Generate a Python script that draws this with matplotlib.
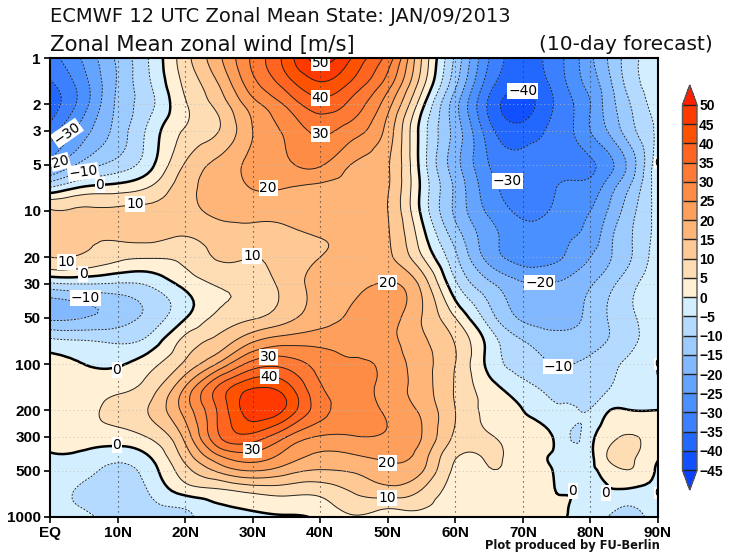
import numpy as np
import matplotlib
matplotlib.use("Agg")
import matplotlib.pyplot as plt
import matplotlib.tri as mtri
from matplotlib.colors import ListedColormap, BoundaryNorm
from matplotlib.ticker import NullLocator

lats = [0, 5, 10, 15, 20, 25, 30, 35, 40, 45, 50, 55, 60, 65, 70, 75, 77.5, 80, 82.5, 85, 90]
levels_hpa = [1, 1.5, 2, 3, 5, 7, 10, 15, 20, 30, 50, 70, 100, 150, 200, 300, 400, 500, 700, 850, 1000]

u_1 = [-32, -24, -14, -4, 8, 19, 31, 42, 52, 44, 33, 10, -11, -30, -37, -32, -27, -21, -15, -9, -2]
u_1p5 = [-36, -27, -14.5, -5, 6, 15, 28, 37, 44, 38, 27, 7, -14, -33, -39, -33, -28, -23, -17, -10, -2]
u_2 = [-38, -27, -14, -6, 4.5, 12, 23, 31, 38, 33, 22, 2, -18, -36, -42, -34, -30, -25, -18, -12, -2]
u_3 = [-33, -22, -13, -3, 5.5, 10, 20, 26, 31, 27, 18, -2, -17, -33, -38, -33, -30, -25, -20, -14, -4]
u_5 = [-22, -13, -8, -1, 10.5, 16.5, 21.5, 24, 25.5, 19.5, 15.5, -2, -18, -30, -33.5, -32, -32, -31, -27, -21, -1]
u_7 = [-5, 0.5, 2, 5.5, 13, 17.5, 20.2, 20.1, 19, 19, 15.5, -1, -16, -28, -32, -30, -29, -28, -23, -17, -2]
u_10 = [10.5, 10.7, 11, 11.5, 13, 16.5, 17, 17, 17.5, 18, 15, -1, -16, -26, -31, -29, -27, -25, -20, -14, -3]
u_15 = [10.3, 10.3, 10.5, 11, 9.7, 12, 12.5, 13.5, 15, 16.5, 15.5, 2.5, -12, -23, -28, -27, -25, -23, -17, -12, -3]
u_20 = [10, 9.3, 6.5, 5.5, 6.5, 10.5, 10, 12.5, 15, 17, 16, 5.5, -9, -22, -27, -26, -23, -20, -16, -12, -2]
u_30 = [-6, -5, -5.5, -4, 1.5, 5.5, 7, 12, 16.5, 18.5, 20.5, 13.5, -4, -14, -19.5, -19.5, -18, -15.5, -12, -8, -1]
u_50 = [-16, -15, -12.5, -8, -0.3, 6.5, 9.5, 13.5, 18, 21, 22, 15, 5, -7.5, -15.8, -17, -16, -13.5, -10, -7, -1.5]
u_70 = [-4, -5, -6, -3, 6.5, 11.5, 19, 22.5, 23, 23, 21.5, 16, 9.5, -2, -10, -13, -13, -12, -10, -7.5, -1]
u_100 = [1, 0, -0.5, 3.5, 11, 21, 32, 33, 28, 25.5, 23.5, 17, 10, -1.5, -7.2, -10.2, -10, -9, -7, -4.5, 0]
u_150 = [1.5, 2.5, 4.3, 8.5, 21.5, 37, 46, 43, 31, 27, 23, 17.5, 9.5, 2.5, -2.5, -6.5, -7.5, -7.5, -5, -3, -0.5]
u_200 = [1.5, 3.5, 6.7, 10.7, 22, 36, 48, 44, 32, 28, 24, 19, 10, 3.5, 0, -4, -4.5, -4.7, -0.5, 0.3, 0]
u_300 = [2, 2.5, 2.5, 5.7, 16.5, 34.5, 38, 30, 24.5, 24.7, 24.5, 20, 9, 5.5, 2, -1, -5.5, -1.5, 3, 5.3, 3]
u_400 = [-0.5, -1, -3, 0.5, 12, 24.5, 28, 23, 19, 19.5, 21.5, 17.5, 5.5, 5.5, 2.5, -0.8, -2, -1, 5.2, 6.5, 0.8]
u_500 = [-1.5, -3, -6.8, -2, 8, 16, 20, 17, 14.5, 15.5, 18, 15.5, 4, 4.7, 2.5, -0.3, -1.5, -1, 2, 4.7, -1]
u_700 = [-2, -6.5, -8.5, -4.5, 1, 3, 5, 6, 6, 10, 12, 9, 2.5, 2.5, 2, 0, -0.3, -1.5, -1, -1.5, -0.6]
u_850 = [-2, -5.5, -8, -6, -4.3, -0.5, 1, 2, 3, 7, 6, 6, 1.5, 1.5, 1.5, 0.7, -0.5, -2, -3, -5, -1]
u_1000 = [-2, -3.5, -7.5, -6.5, -5.5, -3, -1.5, -0.5, 1, 4.5, 3, 2, 1, 1, 1, 0.7, -0.7, -2.5, -5, -7, -2]

wind = np.array([u_1, u_1p5, u_2, u_3, u_5, u_7, u_10, u_15, u_20, u_30, u_50, u_70, u_100,
                 u_150, u_200, u_300, u_400, u_500, u_700, u_850, u_1000], dtype=float)

contour_levels = list(range(-45, 55, 5))
fill_colors = ["#1050FF", "#2268FF", "#3C80FF", "#4B90FF", "#64A4FF", "#82B8FF", "#9CCBFF",
               "#B4DAFF", "#D2EEFF", "#FFF0D6", "#FFDDB4", "#FFC996", "#FFB478", "#FF9F5C",
               "#FF8C44", "#FF7A35", "#FF6420", "#FF5200", "#FF3A00"]
over_color = "#FF2000"
under_color = "#0A40FF"

y_tick_values = [1, 2, 3, 5, 10, 20, 30, 50, 100, 200, 300, 500, 1000]
x_tick_values = [0, 10, 20, 30, 40, 50, 60, 70, 80, 90]
x_tick_labels = ["EQ", "10N", "20N", "30N", "40N", "50N", "60N", "70N", "80N", "90N"]
cbar_ticks = [50, 45, 40, 35, 30, 25, 20, 15, 10, 5, 0, -5, -10, -15, -20, -25, -30, -35, -40, -45]

label_text = ["50", "40", "30", "20", "10", "0", "\u221210", "20", "\u221230", "10", "0", "10",
              "\u221210", "20", "30", "40", "30", "0", "0", "20", "10", "\u221240", "\u221230",
              "\u221220", "\u221210", "0", "0"]
label_lat = [40, 40, 40, 32.3, 12.6, 7.4, 4.9, 1.5, 2.5, 2.4, 4.9, 29.9,
             5.2, 50, 32.3, 32.5, 30, 9.9, 9.9, 49.9, 49.9, 70, 67.7,
             72.5, 75.2, 77.4, 82.3]
label_p = [1.08, 1.83, 3.14, 7.07, 9.0, 6.76, 5.56, 4.78, 3.09, 21.6, 25.8, 19.7,
           37, 29.4, 89.9, 121, 364, 109, 338, 444, 752, 1.64, 6.36,
           29.4, 104, 677, 699]
label_rot = [0, 0, 0, 0, 0, 0, 8, 15, 35, 0, 0, 0,
             0, 0, 0, 0, 0, 0, 0, 0, 0, 0, 0,
             0, 0, 0, 0]
edge_zero_p = [4.85, 100, 699]

W, H = 734, 560
fig = plt.figure(figsize=(W / 100, H / 100), dpi=100)
ax = fig.add_axes([50 / W, 1 - 517 / H, 608 / W, 459 / H])

lon_grid, p_grid = np.meshgrid(lats, levels_hpa)
tri = mtri.Triangulation(lon_grid.ravel(), 30 * np.log10(p_grid.ravel()))
refiner = mtri.UniformTriRefiner(tri)
fine_tri, fine_wind = refiner.refine_field(wind.ravel(), subdiv=3)
plot_tri = mtri.Triangulation(fine_tri.x, 10 ** (fine_tri.y / 30), fine_tri.triangles)

cmap = ListedColormap(fill_colors)
cmap.set_over(over_color)
cmap.set_under(under_color)
norm = BoundaryNorm(contour_levels, cmap.N)

ax.set_yscale("log")
cf = ax.tricontourf(plot_tri, fine_wind, levels=contour_levels, cmap=cmap, norm=norm, extend="both")
neg = [v for v in contour_levels if v < 0]
pos = [v for v in contour_levels if v > 0]
ax.tricontour(plot_tri, fine_wind, levels=neg, colors="#222222", linewidths=0.65,
              linestyles=[(0, (2.2, 1.6))])
ax.tricontour(plot_tri, fine_wind, levels=pos, colors="#222222", linewidths=0.7, linestyles="solid")
ax.tricontour(plot_tri, fine_wind, levels=[0], colors="black", linewidths=1.8, linestyles="solid")

for v in x_tick_values[1:-1]:
    ax.axvline(v, color="#333333", lw=0.8, ls=(0, (1, 3.5)), zorder=3)
for v in y_tick_values[1:-1]:
    ax.axhline(v, color="#bbbbbb", lw=0.7, ls=(0, (1, 3)), alpha=0.8, zorder=3)

box = dict(facecolor="white", edgecolor="none", pad=0.6)
for txt, la, pr, rot in zip(label_text, label_lat, label_p, label_rot):
    ax.text(la, pr, txt, ha="center", va="center", rotation=rot, fontsize=10,
            family="DejaVu Sans", color="black", bbox=box, zorder=5)
for pr in edge_zero_p:
    ax.text(90, pr, "0", ha="center", va="center", fontsize=8, family="DejaVu Sans",
            bbox=box, zorder=5, clip_on=True)

ax.set_xlim(0, 90)
ax.set_ylim(1000, 1)
ax.yaxis.set_minor_locator(NullLocator())
ax.set_yticks(y_tick_values)
ax.set_yticklabels([str(v) for v in y_tick_values])
ax.set_xticks(x_tick_values)
ax.set_xticklabels(x_tick_labels)
for lab in ax.get_xticklabels() + ax.get_yticklabels():
    lab.set_family("Liberation Sans")
    lab.set_weight("bold")
    lab.set_fontsize(11)
ax.tick_params(length=4.5, width=1.2, pad=2)
for s in ax.spines.values():
    s.set_linewidth(1.5)
    s.set_zorder(6)

fig.text(50 / W, 1 - 17 / H, "ECMWF 12 UTC Zonal Mean State: JAN/09/2013", ha="left", va="center",
         fontsize=14, family="DejaVu Sans", color="#111111")
fig.text(50 / W, 1 - 45 / H, "Zonal Mean zonal wind [m/s]", ha="left", va="center",
         fontsize=15.2, family="DejaVu Sans", color="#111111")
fig.text(713 / W, 1 - 45 / H, "(10-day forecast)", ha="right", va="center",
         fontsize=14.5, family="DejaVu Sans", color="#111111")
fig.text(660 / W, 1 - 545 / H, "Plot produced by FU-Berlin", ha="right", va="center",
         fontsize=8.3, family="DejaVu Sans", weight="bold", color="#111111")

cax = fig.add_axes([682.5 / W, 1 - 490 / H, 14.5 / W, 405 / H])
cb = fig.colorbar(cf, cax=cax, orientation="vertical", extend="both", extendfrac=22 / 405,
                  drawedges=True, spacing="proportional", ticks=cbar_ticks)
cb.dividers.set_color("#222222")
cb.dividers.set_linewidth(1.0)
cb.outline.set_edgecolor("#555555")
cb.outline.set_linewidth(1.0)
cb.ax.yaxis.set_minor_locator(NullLocator())
cb.ax.tick_params(length=0, pad=1.5)
cb.set_ticklabels([str(v).replace("-", "\u2212") for v in cbar_ticks])
for lab in cb.ax.get_yticklabels():
    lab.set_family("Liberation Sans")
    lab.set_weight("bold")
    lab.set_fontsize(10)

fig.savefig("out.png", dpi=100)
